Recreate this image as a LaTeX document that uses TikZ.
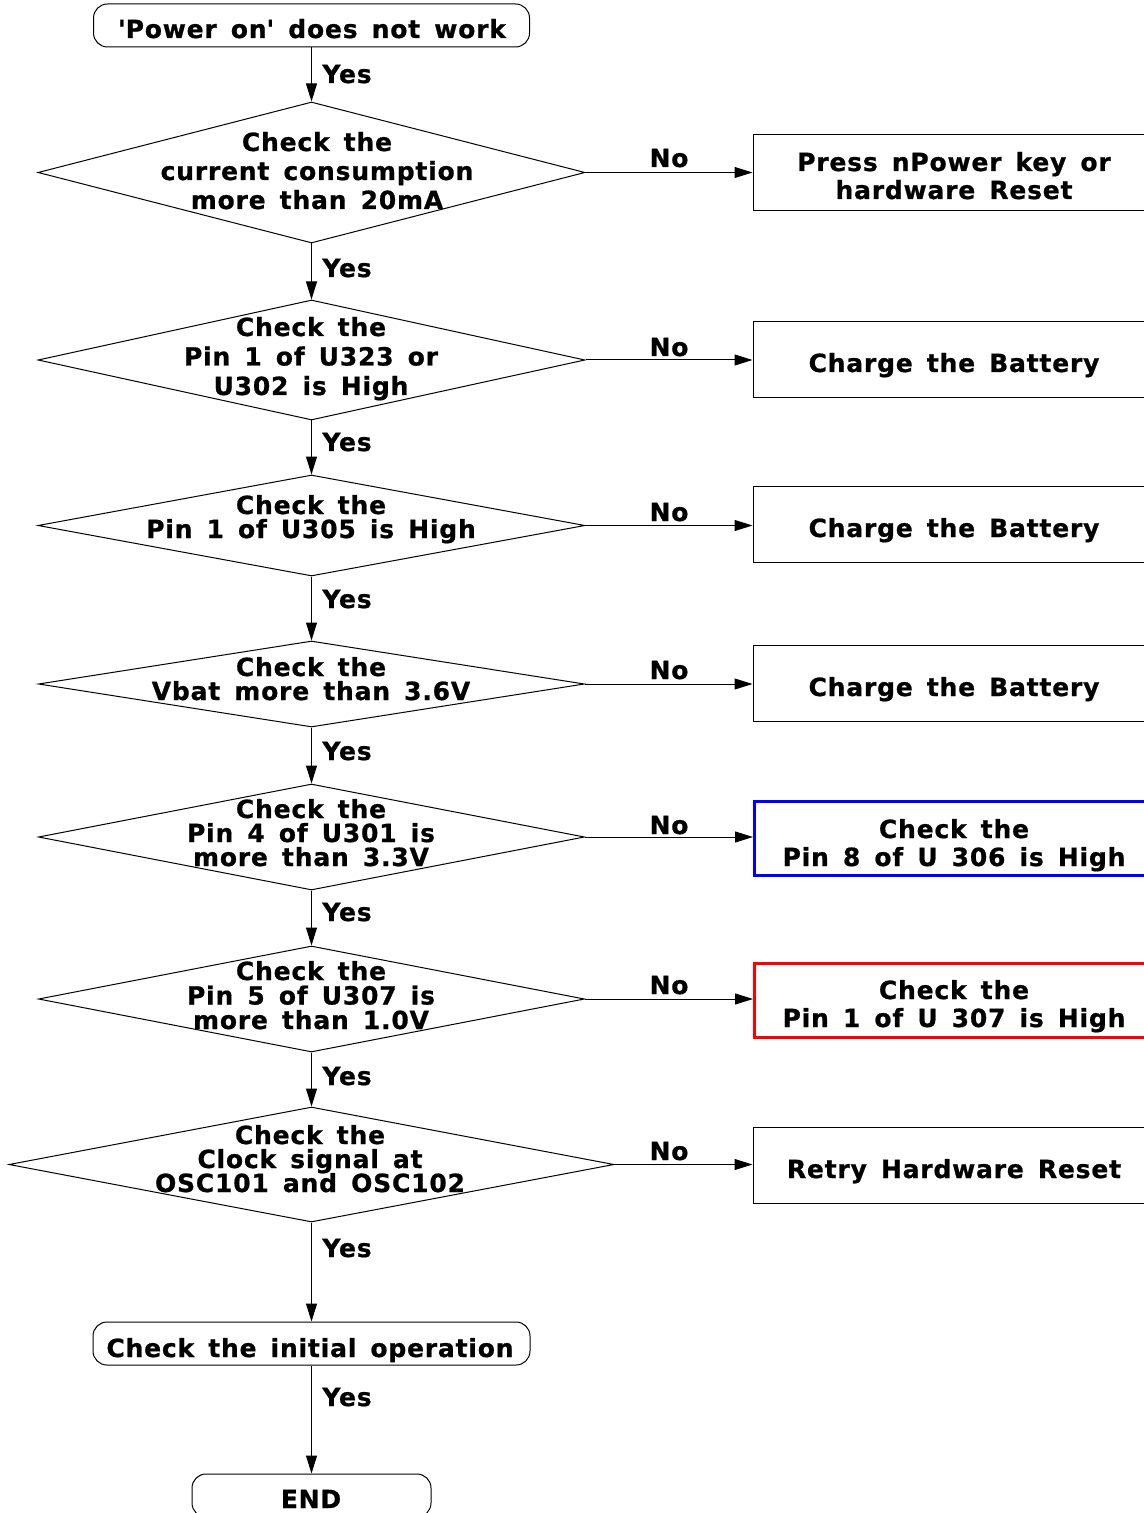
\documentclass[tikz,border=0pt]{standalone}
\usepackage{fontspec}
\setmainfont{DejaVu Sans}[LetterSpace=3.2, WordSpace=1.48, BoldFeatures={FakeBold=0.8}]
\usetikzlibrary{shapes.geometric,arrows.meta}
\newcommand\mlines[2]{\vtop{\baselineskip=#1\lineskiplimit=-\maxdimen\lineskip=0pt\halign{\hfil##\hfil\cr#2\crcr}}}
\definecolor{boxblue}{RGB}{0,0,255}
\definecolor{boxred}{RGB}{255,0,0}
\tikzset{
 txt/.style={font=\bfseries\fontsize{12.5}{15}\selectfont, inner sep=0pt, anchor=base},
 dia/.style={diamond, draw, line width=0.5pt, inner sep=0pt},
 term/.style={draw, line width=0.5pt, rounded corners=7pt, minimum height=21.5pt, inner sep=0pt},
 proc/.style={draw, line width=0.5pt, minimum width=201pt, minimum height=38pt, inner sep=0pt},
 cproc/.style={draw, line width=1.5pt, minimum width=201pt, minimum height=37pt, inner sep=0pt},
 arr/.style={line width=0.5pt, -{Triangle[length=9pt,width=5.5pt]}},
 yeslbl/.style={font=\bfseries\fontsize{12.5}{15}\selectfont, inner sep=0pt, anchor=base west},
 nolbl/.style={font=\bfseries\fontsize{12.5}{15}\selectfont, inner sep=0pt, anchor=base},
}
\begin{document}
\begin{tikzpicture}[x=0.5pt,y=-0.5pt]
\useasboundingbox (0,0) rectangle (1144,1513);
\clip (0,0) rectangle (1144,1513);

% start
\node[term, minimum width=218pt] (start) at (311.5,25.5) {};
\node[txt] (tstart) at (312,38) {\textquotesingle Power on\textquotesingle{} does not work};

% decision 1
\node[dia, minimum width=273.5pt, minimum height=70.5pt] (d1) at (311.5,172.5) {};
\node[txt] (td1) at (317,151) {\mlines{14.5pt}{Check the\cr current consumption\cr more than 20mA}};
\node[proc] (b1) at (954,173) {};
\node[txt] (tb1) at (954,171) {\mlines{14pt}{Press nPower key or\cr hardware Reset}};

% decision 2
\node[dia, minimum width=273.5pt, minimum height=60pt] (d2) at (311.5,360) {};
\node[txt] (td2) at (311,336) {\mlines{14.75pt}{Check the\cr Pin 1 of U323 or\cr U302 is High}};
\node[proc] (b2) at (954,360) {};
\node[txt] (tb2) at (954,372) {Charge the Battery};

% decision 3
\node[dia, minimum width=273.5pt, minimum height=50.5pt] (d3) at (311.5,525.5) {};
\node[txt] (td3) at (311,514) {\mlines{12pt}{Check the\cr Pin 1 of U305 is High}};
\node[proc] (b3) at (954,524.5) {};
\node[txt] (tb3) at (954,537) {Charge the Battery};

% decision 4
\node[dia, minimum width=273pt, minimum height=43pt] (d4) at (311.5,684) {};
\node[txt] (td4) at (311,676) {\mlines{12pt}{Check the\cr Vbat more than 3.6V}};
\node[proc] (b4) at (954,683.5) {};
\node[txt] (tb4) at (954,696) {Charge the Battery};

% decision 5
\node[dia, minimum width=273pt, minimum height=53pt] (d5) at (311.5,837) {};
\node[txt] (td5) at (311,818) {\mlines{12pt}{Check the\cr Pin 4 of U301 is\cr more than 3.3V}};
\node[cproc, draw=boxblue] (b5) at (955.5,838.5) {};
\node[txt] (tb5) at (954,838) {\mlines{14pt}{Check the\cr Pin 8 of U 306 is High}};

% decision 6
\node[dia, minimum width=273pt, minimum height=53pt] (d6) at (311.5,999) {};
\node[txt] (td6) at (311,980) {\mlines{12.25pt}{Check the\cr Pin 5 of U307 is\cr more than 1.0V}};
\node[cproc, draw=boxred] (b6) at (955.5,1000) {};
\node[txt] (tb6) at (954,999) {\mlines{14pt}{Check the\cr Pin 1 of U 307 is High}};

% decision 7
\node[dia, minimum width=302.5pt, minimum height=57.5pt] (d7) at (311.5,1164.5) {};
\node[txt] (td7) at (310,1144) {\mlines{12pt}{Check the\cr Clock signal at\cr OSC101 and OSC102}};
\node[proc] (b7) at (954,1165) {};
\node[txt] (tb7) at (954,1178) {Retry Hardware Reset};

% initial operation and end
\node[term, minimum width=218.5pt] (init) at (311.5,1343.5) {};
\node[txt] (tinit) at (310,1357) {Check the initial operation};
\node[term, minimum width=119.5pt] (fin) at (311.5,1495.5) {};
\node[txt] (tfin) at (311,1508) {END};

% vertical connectors
\draw[arr] (start.south) -- (d1.north);
\draw[arr] (d1.south) -- (d2.north);
\draw[arr] (d2.south) -- (d3.north);
\draw[arr] (d3.south) -- (d4.north);
\draw[arr] (d4.south) -- (d5.north);
\draw[arr] (d5.south) -- (d6.north);
\draw[arr] (d6.south) -- (d7.north);
\draw[arr] (d7.south) -- (init.north);
\draw[arr] (init.south) -- (fin.north);

% horizontal connectors
\draw[arr] (d1.east) -- (d1.east -| b1.west);
\draw[arr] (d2.east) -- (d2.east -| b2.west);
\draw[arr] (d3.east) -- (d3.east -| b3.west);
\draw[arr] (d4.east) -- (d4.east -| b4.west);
\draw[arr] (d5.east) -- (d5.east -| b5.west);
\draw[arr] (d6.east) -- (d6.east -| b6.west);
\draw[arr] (d7.east) -- (d7.east -| b7.west);

% Yes labels
\node[yeslbl] (y1) at (322,83) {Yes};
\node[yeslbl] (y2) at (322,277) {Yes};
\node[yeslbl] (y3) at (322,451) {Yes};
\node[yeslbl] (y4) at (322,608) {Yes};
\node[yeslbl] (y5) at (322,760) {Yes};
\node[yeslbl] (y6) at (322,921) {Yes};
\node[yeslbl] (y7) at (322,1085) {Yes};
\node[yeslbl] (y8) at (322,1257) {Yes};
\node[yeslbl] (y9) at (322,1406) {Yes};

% No labels
\node[nolbl] (n1) at (669,167) {No};
\node[nolbl] (n2) at (669,356) {No};
\node[nolbl] (n3) at (669,521) {No};
\node[nolbl] (n4) at (669,679) {No};
\node[nolbl] (n5) at (669,834) {No};
\node[nolbl] (n6) at (669,994) {No};
\node[nolbl] (n7) at (669,1160) {No};
\end{tikzpicture}
\end{document}
